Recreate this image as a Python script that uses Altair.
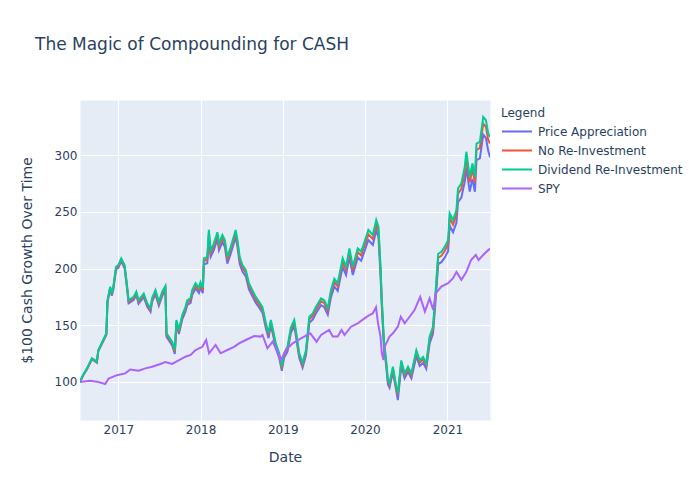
import altair as alt
import pandas as pd

# ---- data ----
cash_dates = [
    "2016-07-15", "2016-07-28", "2016-08-15", "2016-09-06", "2016-09-28", "2016-10-04",
    "2016-10-26", "2016-11-09", "2016-11-14", "2016-11-26", "2016-12-03", "2016-12-10",
    "2016-12-22", "2017-01-01", "2017-01-14", "2017-01-29", "2017-02-06", "2017-02-16",
    "2017-03-10", "2017-03-22", "2017-04-01", "2017-04-24", "2017-05-09", "2017-05-24",
    "2017-05-31", "2017-06-15", "2017-06-30", "2017-07-15", "2017-07-29", "2017-08-03",
    "2017-08-13", "2017-08-28", "2017-09-09", "2017-09-16", "2017-09-27", "2017-10-12",
    "2017-10-26", "2017-11-03", "2017-11-18", "2017-11-25", "2017-12-10", "2017-12-25",
    "2018-01-01", "2018-01-11", "2018-01-16", "2018-01-31", "2018-02-07", "2018-02-15",
    "2018-03-01", "2018-03-17", "2018-03-24", "2018-04-08", "2018-04-19", "2018-04-30",
    "2018-05-15", "2018-06-06", "2018-06-14", "2018-06-24", "2018-07-06", "2018-07-21",
    "2018-08-04", "2018-08-19", "2018-09-03", "2018-09-18", "2018-10-03", "2018-10-18",
    "2018-10-30", "2018-11-09", "2018-11-19", "2018-12-01", "2018-12-16", "2018-12-28",
    "2019-01-07", "2019-01-22", "2019-02-06", "2019-02-21", "2019-02-28", "2019-03-15",
    "2019-03-30", "2019-04-14", "2019-04-29", "2019-05-14", "2019-05-28", "2019-06-20",
    "2019-07-04", "2019-07-20", "2019-08-03", "2019-08-18", "2019-09-02", "2019-09-24",
    "2019-10-09", "2019-10-24", "2019-11-08", "2019-11-30", "2019-12-15", "2019-12-30",
    "2020-01-16", "2020-02-05", "2020-02-20", "2020-03-01", "2020-03-10", "2020-03-16",
    "2020-03-25", "2020-04-04", "2020-04-12", "2020-04-19", "2020-05-04", "2020-05-19",
    "2020-05-26", "2020-06-10", "2020-06-25", "2020-07-10", "2020-07-25", "2020-08-16",
    "2020-08-31", "2020-09-15", "2020-09-29", "2020-10-14", "2020-10-29", "2020-11-10",
    "2020-11-21", "2020-12-05", "2020-12-20", "2021-01-04", "2021-01-11", "2021-01-26",
    "2021-02-10", "2021-02-17", "2021-03-04", "2021-03-19", "2021-03-26", "2021-04-10",
    "2021-04-22", "2021-05-03", "2021-05-10", "2021-05-25", "2021-06-09", "2021-06-21",
    "2021-07-01", "2021-07-09",
]

dividend_reinvestment = [
    100, 106, 112, 121, 118, 128,
    137, 143, 172, 184, 178, 184,
    201.6, 203, 209, 203, 190, 172,
    175, 179.6, 172, 178, 169.6, 165,
    174, 181, 170.7, 179.6, 184.6, 143,
    140, 135.5, 128, 154.6, 145.8, 159,
    166, 172, 174, 181, 187, 183,
    188, 183, 209, 210, 234, 216,
    222, 232, 222, 229.5, 225, 210,
    219, 234, 225, 210, 203, 198.7,
    187, 181, 175, 170.7, 166, 152,
    143, 154.6, 145.8, 134, 125.5, 113.5,
    125.5, 131, 148, 154.6, 145.8, 125.5,
    116.7, 128, 157.5, 160.5, 166, 173.7,
    172, 165, 181, 191, 187, 209,
    201.6, 217.8, 201.6, 217.8, 214.8, 223.6,
    234, 229.5, 242.7, 236.8, 201.6, 172,
    137, 119, 101.8, 98.9, 113.5, 95.9,
    90, 119, 107.6, 113.5, 107.6, 128,
    119, 122, 116.5, 140, 148.7, 181,
    213, 214.8, 219, 225, 248.6, 242.7,
    251.5, 270.6, 275, 289.7, 302.9, 280.8,
    292.6, 280.8, 310, 311.7, 333.7, 330.8,
    319, 316,
]

no_reinvestment = [
    100, 105.8, 111.7, 120.6, 117.6, 127.5,
    136.5, 142.4, 171.3, 183.2, 177.2, 183,
    200.6, 202, 207.8, 201.8, 188.8, 170.8,
    173.8, 178.3, 170.7, 176.6, 168.2, 163.6,
    172.5, 179.4, 169.2, 178, 182.9, 141.6,
    138.6, 134.1, 126.6, 153, 144.3, 157.4,
    164.3, 170.2, 172.2, 179.1, 185, 181,
    186, 181, 206.8, 207.7, 231.4, 213.6,
    219.5, 229.4, 219.5, 226.9, 222.4, 207.6,
    216.5, 231.3, 222.4, 207.5, 200.6, 196.3,
    184.7, 178.8, 172.8, 168.5, 163.9, 150,
    141.1, 152.6, 143.9, 132.2, 123.8, 111.9,
    123.8, 129.2, 146, 152.5, 143.8, 123.7,
    115, 126.2, 155.3, 158.2, 163.6, 171.2,
    169.5, 162.6, 178.4, 188.2, 184.2, 205.9,
    198.6, 214.5, 198.5, 214.4, 211.5, 220.1,
    230.3, 225.9, 238.9, 233, 198.4, 169.3,
    134.8, 117.1, 100.2, 97.3, 111.7, 94.4,
    88.6, 117.1, 105.9, 111.7, 105.9, 125.9,
    117.1, 120, 114.6, 137.7, 146.3, 178,
    209.5, 211.2, 215.4, 221.2, 244.4, 238.6,
    247.2, 266, 270.3, 284.7, 297.6, 275.9,
    287.5, 275.8, 304.5, 306.1, 327.7, 324.8,
    313.2, 310.2,
]

price_appreciation = [
    100, 105.5, 111.3, 120, 117, 127,
    135.8, 141.6, 170.3, 182, 176, 181.5,
    199.2, 200.5, 206.3, 200.2, 187.2, 169.3,
    172.2, 176.6, 169, 174.8, 166.4, 161.8,
    170.6, 177.4, 167.2, 175.9, 180.8, 139.8,
    136.8, 132.3, 124.8, 151, 142.3, 155.2,
    162, 167.9, 169.8, 176.6, 182.4, 178.4,
    183.3, 178.3, 203.8, 204.6, 228, 210.4,
    216.2, 225.9, 216.1, 223.4, 219, 204.3,
    213, 227.6, 218.8, 204.2, 197.3, 193.1,
    181.7, 175.8, 169.9, 165.7, 161.1, 147.4,
    138.6, 149.9, 141.3, 129.8, 121.5, 109.8,
    121.4, 126.7, 143.2, 149.5, 141, 121.3,
    112.7, 123.6, 152.2, 155, 160.3, 167.7,
    166, 159.2, 174.6, 184.2, 180.3, 201.5,
    194.3, 209.9, 194.2, 209.7, 206.8, 215.2,
    225.1, 220.7, 233.4, 227.7, 193.8, 165.3,
    131.6, 114.3, 97.8, 95, 109, 92,
    84, 114.2, 103.2, 108.9, 103.2, 122.7,
    114.1, 116.9, 111.6, 134.1, 142.4, 173.3,
    203.9, 205.6, 209.6, 215.2, 237.7, 232,
    240.3, 258.5, 262.6, 276.5, 289, 267.8,
    279, 267.7, 295.5, 297, 317.9, 315,
    303.7, 298,
]

spy_dates = [
    "2016-07-15", "2016-08-29", "2016-09-28", "2016-11-04", "2016-11-19", "2016-12-26",
    "2017-02-01", "2017-02-23", "2017-04-01", "2017-05-01", "2017-05-31", "2017-07-07",
    "2017-07-29", "2017-08-28", "2017-10-04", "2017-10-26", "2017-11-18", "2017-12-10",
    "2018-01-09", "2018-01-26", "2018-02-08", "2018-03-09", "2018-03-31", "2018-04-30",
    "2018-05-30", "2018-06-21", "2018-07-21", "2018-08-27", "2018-09-25", "2018-10-03",
    "2018-10-25", "2018-11-17", "2018-12-09", "2018-12-24", "2019-01-15", "2019-02-14",
    "2019-03-23", "2019-05-03", "2019-05-31", "2019-06-20", "2019-07-26", "2019-08-11",
    "2019-09-02", "2019-09-19", "2019-10-02", "2019-10-31", "2019-11-30", "2019-12-30",
    "2020-01-21", "2020-02-05", "2020-02-19", "2020-02-28", "2020-03-10", "2020-03-16",
    "2020-03-23", "2020-03-26", "2020-04-19", "2020-05-04", "2020-05-26", "2020-06-08",
    "2020-06-25", "2020-07-17", "2020-08-08", "2020-09-02", "2020-09-23", "2020-10-14",
    "2020-10-30", "2020-11-10", "2020-12-05", "2021-01-04", "2021-01-26", "2021-02-10",
    "2021-03-04", "2021-03-26", "2021-04-16", "2021-05-07", "2021-05-19", "2021-06-14",
    "2021-07-09",
]

spy_values = [
    100, 101, 100.3, 98.2, 103, 106,
    107.6, 111, 110, 112, 113.5, 115.9,
    117.6, 115.9, 120, 122.3, 123.8, 128.2,
    131, 137, 125.3, 132.6, 125.3, 128.2,
    131, 134, 137, 140.5, 140, 141.4,
    129.7, 135.5, 126.7, 119.4, 128.2, 134,
    138.5, 142.9, 135.5, 141.4, 145.8, 140,
    140, 145.8, 141.4, 148.7, 151.7, 156,
    159, 160.5, 165.8, 151.7, 140, 125.3,
    119.4, 130, 140, 142.9, 148.7, 157.5,
    151.7, 157.5, 163.4, 175, 162, 173.7,
    163.4, 178, 184, 187, 191.4, 197,
    190, 197, 207.5, 212, 207.5, 213,
    217.6,
]

series_names = ["Price Appreciation", "No Re-Investment", "Dividend Re-Investment", "SPY"]
series_colors = ["#636efa", "#EF553B", "#00cc96", "#ab63fa"]
y_ticks = [100, 150, 200, 250, 300]

# ---- long table ----
rows = []
for name, vals in zip(series_names[:3], [price_appreciation, no_reinvestment, dividend_reinvestment]):
    for d, v in zip(cash_dates, vals):
        rows.append({"Date": d, "Value": v, "Legend": name})
for d, v in zip(spy_dates, spy_values):
    rows.append({"Date": d, "Value": v, "Legend": "SPY"})
df = pd.DataFrame(rows)

FONT = "DejaVu Sans"
TXT = "#2a3f5f"

x_enc = alt.X(
    "Date:T",
    scale=alt.Scale(domain=[alt.DateTime(year=2016, month=7, date=15),
                            alt.DateTime(year=2021, month=7, date=9)]),
    axis=alt.Axis(title="Date", format="%Y", tickCount="year", labelPadding=4, titlePadding=15),
)
y_enc = alt.Y(
    "Value:Q",
    scale=alt.Scale(domain=[66.5, 348.5], nice=False, zero=False),
    axis=alt.Axis(title="$100 Cash Growth Over Time", values=y_ticks, labelPadding=3, titlePadding=20),
)
color_enc = alt.Color(
    "Legend:N",
    scale=alt.Scale(domain=series_names, range=series_colors),
    sort=series_names,
    legend=alt.Legend(
        title="Legend", orient="none", legendX=421, legendY=8,
        symbolType="stroke", symbolSize=900, symbolStrokeWidth=2, symbolOffset=0,
        clipHeight=15, rowPadding=4, titlePadding=4, labelOffset=5, padding=0,
        labelFont=FONT, labelFontSize=12, labelColor=TXT,
        titleFont=FONT, titleFontSize=12, titleColor=TXT, titleFontWeight="normal",
    ),
)

layers = []
for name in series_names:
    layers.append(
        alt.Chart(df)
        .transform_filter(alt.datum.Legend == name)
        .mark_line(strokeWidth=2, clip=True)
        .encode(x=x_enc, y=y_enc, color=color_enc)
    )

chart = (
    alt.layer(*layers)
    .properties(
        width=410,
        height=320,
        title=alt.TitleParams(
            text="The Magic of Compounding for CASH", anchor="start", frame="group",
            dx=-45, offset=33, baseline="alphabetic",
            font=FONT, fontSize=17, color=TXT, fontWeight="normal",
        ),
        autosize=alt.AutoSizeParams(type="none"),
        padding={"left": 72, "top": 92, "right": 202, "bottom": 72},
    )
    .configure_view(fill="#E5ECF6", stroke="transparent")
    .configure_axis(
        grid=True, gridColor="white", gridWidth=1, domain=False, ticks=False,
        labelFont=FONT, labelFontSize=12, labelColor=TXT,
        titleFont=FONT, titleFontSize=14, titleColor=TXT, titleFontWeight="normal",
    )
)

chart.save("out.html", embed_options={"renderer": "svg", "actions": False})
